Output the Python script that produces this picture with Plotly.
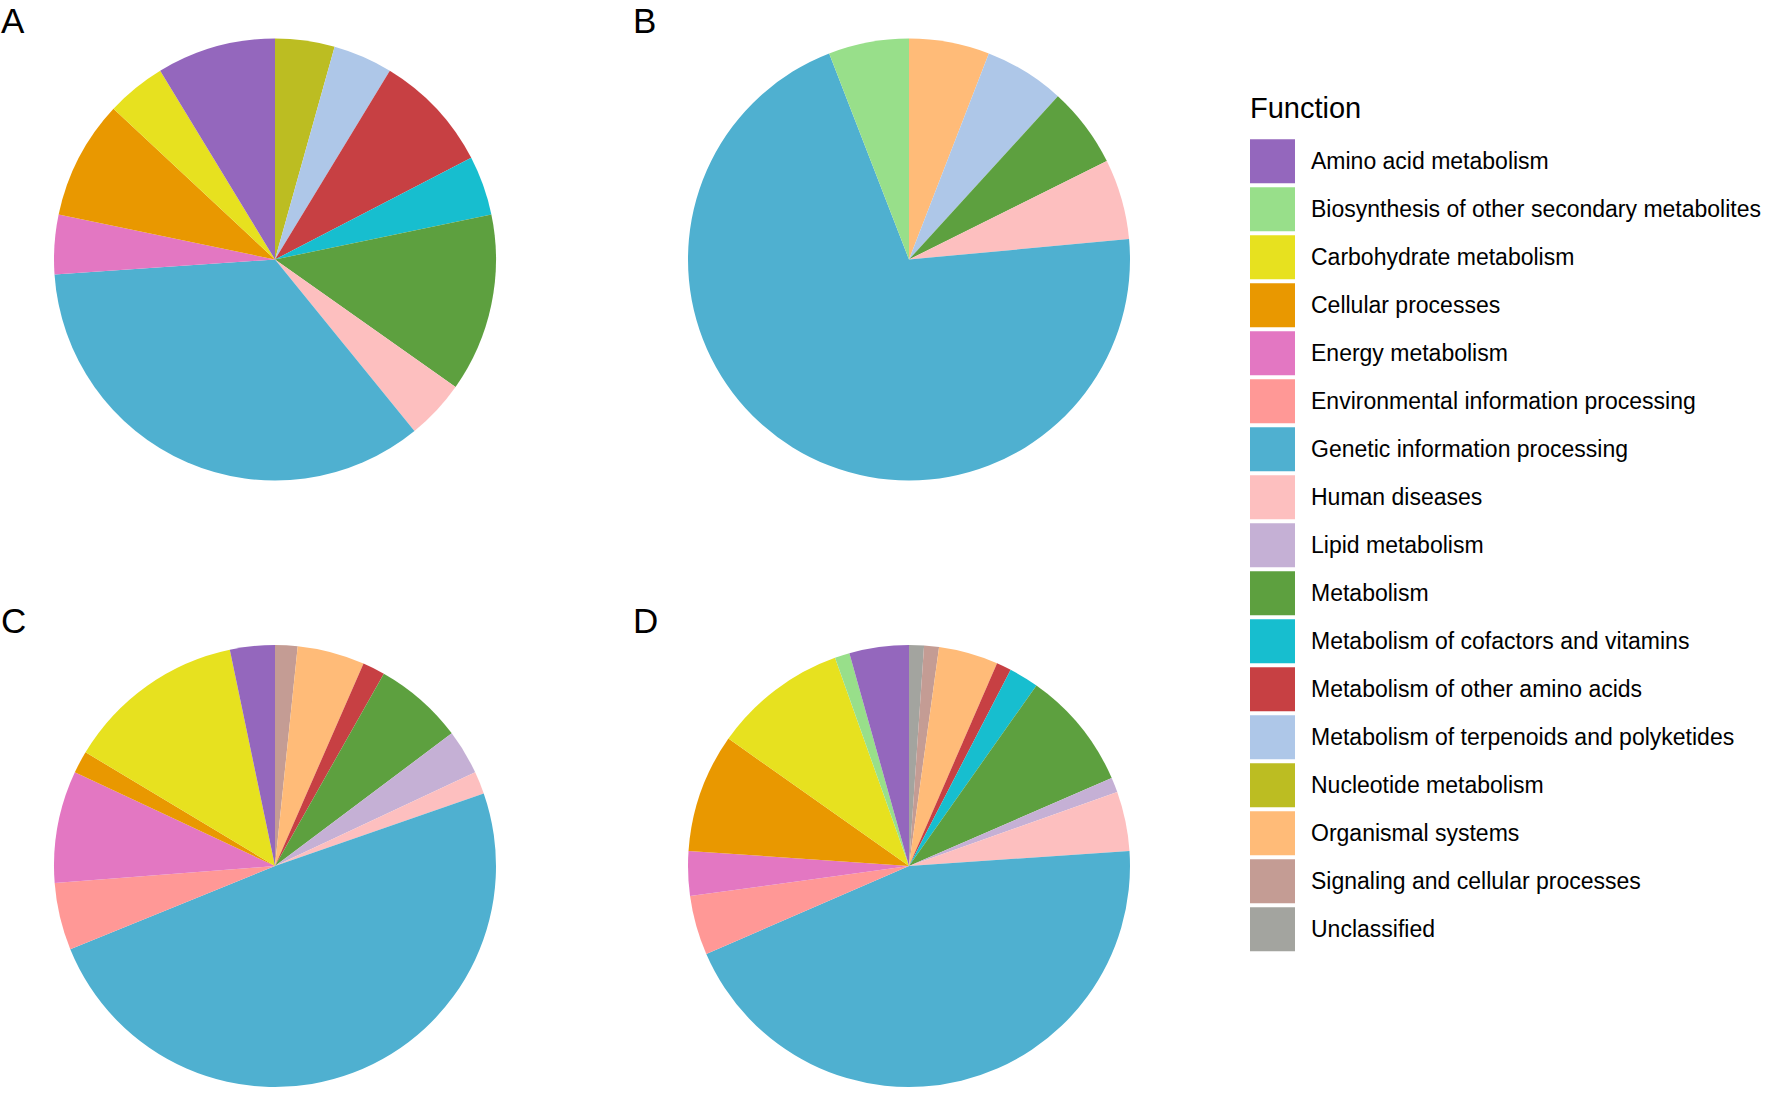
import plotly.graph_objects as go

W, H = 1776, 1114

categories = [
    "Amino acid metabolism",
    "Biosynthesis of other secondary metabolites",
    "Carbohydrate metabolism",
    "Cellular processes",
    "Energy metabolism",
    "Environmental information processing",
    "Genetic information processing",
    "Human diseases",
    "Lipid metabolism",
    "Metabolism",
    "Metabolism of cofactors and vitamins",
    "Metabolism of other amino acids",
    "Metabolism of terpenoids and polyketides",
    "Nucleotide metabolism",
    "Organismal systems",
    "Signaling and cellular processes",
    "Unclassified",
]

colors = [
    "#9467BD", "#98DF8A", "#E7E11F", "#E99800", "#E377C2", "#FF9896",
    "#4FB0D0", "#FDBFBF", "#C5B0D5", "#5DA03F", "#17BECF", "#C74043",
    "#AEC7E8", "#BCBD22", "#FFBB78", "#C49C94", "#A3A49F",
]

panel_labels = ["A", "B", "C", "D"]

counts_A = [2, 0, 1, 2, 1, 0, 8, 1, 0, 3, 1, 2, 1, 1, 0, 0, 0]
counts_B = [0, 1, 0, 0, 0, 0, 12, 1, 0, 1, 0, 0, 1, 0, 1, 0, 0]
counts_C = [2, 0, 8, 1, 5, 3, 30, 1, 2, 4, 0, 1, 0, 0, 3, 1, 0]
counts_D = [4, 1, 9, 8, 3, 4, 41, 4, 1, 8, 2, 1, 0, 0, 4, 1, 1]

legend_title = "Function"

FONT = "Liberation Sans, Arial, Helvetica, sans-serif"


def px_x(p):
    return p / W


def px_y(p):
    return 1 - p / H


# pie centres (pixels) and radius
centres = [(275, 259.5), (909, 259.5), (275, 866), (909, 866)]
R = 221

fig = go.Figure()
for counts, (cx, cy) in zip([counts_A, counts_B, counts_C, counts_D], centres):
    # clockwise from 12 o'clock, last category first (as in ggplot coord_polar)
    rows = [(c, v, col) for c, v, col in zip(categories, counts, colors) if v > 0][::-1]
    fig.add_trace(go.Pie(
        labels=[r[0] for r in rows],
        values=[r[1] for r in rows],
        marker=dict(colors=[r[2] for r in rows], line=dict(width=0)),
        sort=False,
        direction="clockwise",
        rotation=0,
        textinfo="none",
        showlegend=False,
        domain=dict(x=[px_x(cx - R), px_x(cx + R)],
                    y=[px_y(cy + R), px_y(cy - R)]),
    ))

annotations = []
# panel labels (box top-left positions in pixels)
label_pos = [(0, 0), (632, 0), (0, 600), (632, 600)]
for lab, (lx, ly) in zip(panel_labels, label_pos):
    annotations.append(dict(
        text=lab, x=px_x(lx), y=px_y(ly), xref="paper", yref="paper",
        xanchor="left", yanchor="top", showarrow=False, borderpad=0,
        font=dict(family=FONT, size=35, color="black"),
    ))

# legend (drawn manually to match the large keys)
shapes = []
key_x0, key_x1 = 1250, 1295
key_top, key_h, pitch = 139.3, 44, 48
annotations.append(dict(
    text=legend_title, x=px_x(1248), y=px_y(107.5), xref="paper", yref="paper",
    xanchor="left", yanchor="middle", showarrow=False,
    font=dict(family=FONT, size=29, color="black"),
))
for i, (cat, col) in enumerate(zip(categories, colors)):
    y0 = key_top + i * pitch
    shapes.append(dict(
        type="rect", xref="paper", yref="paper",
        x0=px_x(key_x0), x1=px_x(key_x1), y0=px_y(y0 + key_h), y1=px_y(y0),
        fillcolor=col, line=dict(width=0),
    ))
    annotations.append(dict(
        text=cat, x=px_x(1309), y=px_y(y0 + key_h / 2), xref="paper", yref="paper",
        xanchor="left", yanchor="middle", showarrow=False,
        font=dict(family=FONT, size=23, color="black"),
    ))

fig.update_layout(
    width=W, height=H,
    margin=dict(l=0, r=0, t=0, b=0),
    paper_bgcolor="white", plot_bgcolor="white",
    annotations=annotations, shapes=shapes,
)

fig.write_html(
    "out.html",
    config={"displayModeBar": False},
    post_script="document.body.style.margin='0';document.body.style.overflow='hidden';",
)
